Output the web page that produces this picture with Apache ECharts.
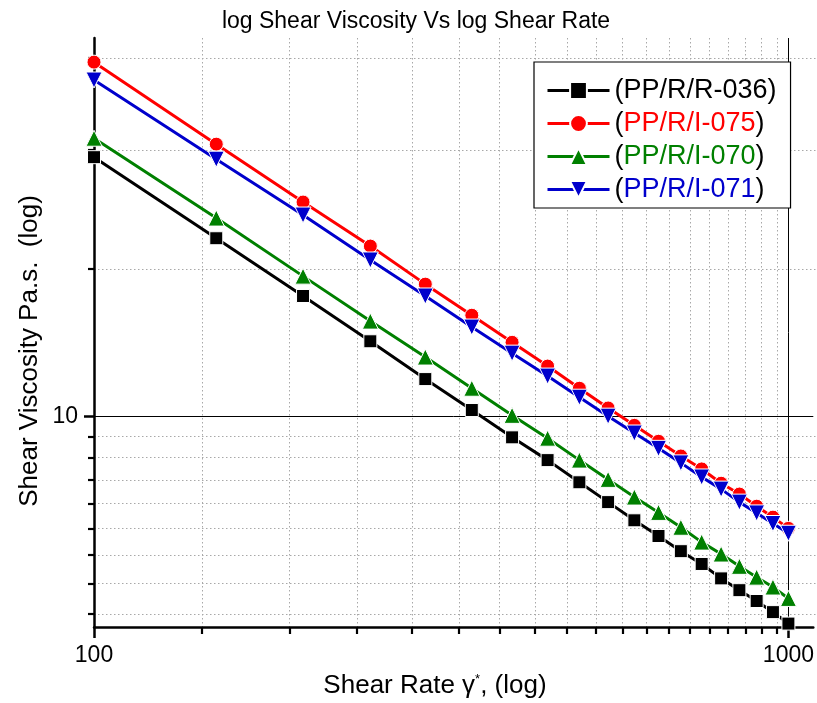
<!DOCTYPE html>
<html><head><meta charset="utf-8">
<script src="https://cdn.jsdelivr.net/npm/echarts@6/dist/echarts.min.js"></script>
<style>html,body{margin:0;padding:0;background:#fff}#c{width:817px;height:703px}</style>
</head><body><div id="c"></div>
<script>
const shearRate = [100,150,200,250,300,350,400,450,500,550,600,650,700,750,800,850,900,950,1000];
const viscR036 = [18.73,15.39,13.38,11.99,10.94,10.15,9.50,8.99,8.52,8.12,7.77,7.48,7.21,6.99,6.75,6.56,6.39,6.22,6.05];
const viscI075 = [23.58,19.33,16.80,15.10,13.77,12.77,11.96,11.29,10.70,10.20,9.78,9.41,9.08,8.80,8.50,8.28,8.04,7.83,7.62];
const viscI070 = [19.61,16.16,14.04,12.59,11.54,10.70,10.02,9.48,8.99,8.58,8.22,7.92,7.64,7.37,7.16,6.95,6.77,6.61,6.43];
const viscI071 = [22.58,18.64,16.28,14.60,13.38,12.41,11.65,11.02,10.47,10.00,9.60,9.25,8.93,8.63,8.38,8.12,7.91,7.71,7.53];
const seriesNames = ['PP/R/R-036','PP/R/I-075','PP/R/I-070','PP/R/I-071'];
const xMajorTicks = [100, 1000];
const xMinorTicks = [142.86,190.48,238.10,285.71,333.33,380.95,428.57,476.19,523.81,571.43,619.05,666.67,714.29,761.90,809.52,857.14,904.76,952.38];
const yMajorTicks = [10];
const yMinorTicks = [6.190,6.667,7.143,7.619,8.095,8.571,9.048,9.524,14.286,19.048,23.810];
const xRange = [100, 1086];
const yRange = [6, 25];

const FONT = "'Liberation Sans', Arial, sans-serif";
const colors = ['#000000','#ff0000','#008000','#0000cc'];
const symbols = ['rect','circle','triangle','triangle'];
const symbolSizes = [13,14,16,16];
const rotations = [0,0,0,180];
const values = [viscR036, viscI075, viscI070, viscI071];

const chart = echarts.init(document.getElementById('c'), null, {renderer:'canvas'});
const gridRect = {left:94, right:0, top:38, bottom:76};

const LF = 27;
const rich = {p:{color:'#000', fontSize:LF, fontFamily:FONT}};
colors.forEach((c,i)=>{ rich['c'+i] = {color:c, fontSize:LF, fontFamily:FONT}; });
const tickRich = {t:{fontSize:23, fontFamily:FONT, color:'#000'}};

const option = {
  animation:false,
  backgroundColor:'#fff',
  title:{
    text:'log Shear Viscosity Vs log Shear Rate',
    left:411, top:5, textAlign:'center',
    textStyle:{fontSize:23, fontWeight:'normal', color:'#000', fontFamily:FONT}
  },
  grid:[Object.assign({}, gridRect), Object.assign({}, gridRect)],
  legend:{
    orient:'vertical', left:534, top:62,
    backgroundColor:'#fff', borderColor:'#000', borderWidth:1.2,
    padding:[15,14,5,12], itemGap:6, itemWidth:62, itemHeight:21,
    data:seriesNames,
    lineStyle:{width:3},
    formatter:function(name){ const i = seriesNames.indexOf(name); return '{p|(}{c'+i+'|'+name+'}{p|)}'; },
    textStyle:{fontSize:LF, fontFamily:FONT, rich:rich}
  },
  xAxis:[
    {type:'log', gridIndex:0, min:xRange[0], max:xRange[1], position:'bottom',
     axisLine:{show:true, lineStyle:{color:'#000', width:2.5}},
     axisTick:{show:true, customValues:xMajorTicks, length:11, lineStyle:{color:'#000', width:2.5}},
     axisLabel:{show:true, customValues:xMajorTicks, margin:17, fontSize:23, color:'#000', fontFamily:FONT,
       rich:tickRich, formatter:function(v){ return '{t|'+Math.round(v)+'}'; }},
     splitLine:{show:true, lineStyle:{color:'#000', width:1, type:'solid'}},
     minorTick:{show:false}, minorSplitLine:{show:false}},
    {type:'log', gridIndex:1, min:xRange[0], max:xRange[1], position:'bottom',
     axisLine:{show:false},
     axisTick:{show:true, customValues:xMinorTicks, length:7, lineStyle:{color:'#000', width:2.2}},
     axisLabel:{show:false},
     splitLine:{show:true, lineStyle:{color:'#a8a8a8', width:1, type:[1.5,2.5]}}}
  ],
  yAxis:[
    {type:'log', gridIndex:0, min:yRange[0], max:yRange[1], position:'left',
     axisLine:{show:true, lineStyle:{color:'#000', width:2.5}},
     axisTick:{show:true, customValues:yMajorTicks, length:10, lineStyle:{color:'#000', width:2.5}},
     axisLabel:{show:true, customValues:yMajorTicks, margin:16, fontSize:23, color:'#000', fontFamily:FONT,
       rich:tickRich, formatter:function(v){ return '{t|'+Math.round(v)+'}'; }},
     splitLine:{show:true, lineStyle:{color:'#000', width:1, type:'solid'}}},
    {type:'log', gridIndex:1, min:yRange[0], max:yRange[1], position:'left',
     axisLine:{show:false},
     axisTick:{show:true, customValues:yMinorTicks, length:6, lineStyle:{color:'#000', width:2.2}},
     axisLabel:{show:false},
     splitLine:{show:true, lineStyle:{color:'#a8a8a8', width:1, type:[1.5,2.5]}}}
  ],
  graphic:[
    {type:'text', x:435, y:686, style:{
      text:'{n|Shear Rate γ}{s|*}{n|, (log)}', align:'center', verticalAlign:'middle',
      rich:{n:{fontSize:26, fontFamily:FONT, fill:'#000'}, s:{fontSize:13, fontFamily:FONT, fill:'#000', verticalAlign:'top'}}
    }},
    {type:'text', x:30, y:351, rotation:Math.PI/2, style:{
      text:'Shear Viscosity Pa.s.  (log)', align:'center', verticalAlign:'middle',
      fontSize:26, fontFamily:FONT, fill:'#000'
    }}
  ],
  series: seriesNames.map((n,i)=>({
    name:n, type:'line', xAxisIndex:0, yAxisIndex:0,
    data: shearRate.map((x,j)=>[x, values[i][j]]),
    symbol:symbols[i], symbolSize:symbolSizes[i], symbolRotate:rotations[i],
    showAllSymbol:true,
    lineStyle:{color:colors[i], width:3},
    itemStyle:{color:colors[i], borderColor:'#fff', borderWidth:1},
    z:2+i
  }))
};
chart.setOption(option);
</script>
</body></html>
